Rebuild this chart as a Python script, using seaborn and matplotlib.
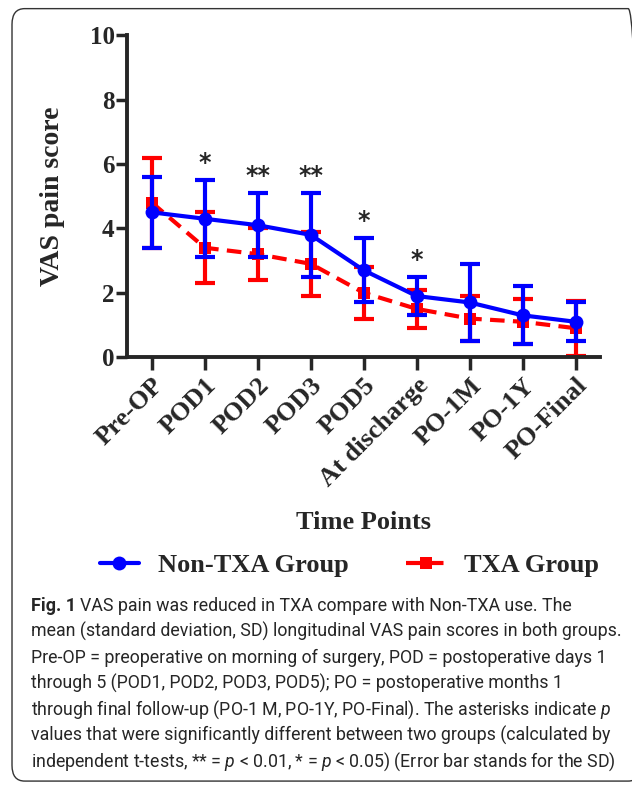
import matplotlib
matplotlib.use('Agg')
import matplotlib.pyplot as plt
import seaborn as sns
import pandas as pd
import numpy as np
from matplotlib.patches import FancyBboxPatch

# Data
time_points = ['Pre-OP', 'POD1', 'POD2', 'POD3', 'POD5', 'At discharge',
               'PO-1M', 'PO-1Y', 'PO-Final']
non_txa_mean = [4.5, 4.3, 4.1, 3.8, 2.7, 1.9, 1.7, 1.3, 1.1]
non_txa_sd = [1.1, 1.2, 1.0, 1.3, 1.0, 0.6, 1.2, 0.9, 0.6]
txa_mean = [4.8, 3.4, 3.2, 2.9, 2.0, 1.5, 1.2, 1.1, 0.9]
txa_sd = [1.4, 1.1, 0.8, 1.0, 0.8, 0.6, 0.7, 0.7, 0.85]
stars = ['', '*', '**', '**', '*', '*', '', '', '']

caption_lines = [
    "VAS pain was reduced in TXA compare with Non-TXA use. The",
    "mean (standard deviation, SD) longitudinal VAS pain scores in both groups.",
    "Pre-OP = preoperative on morning of surgery, POD = postoperative days 1",
    "through 5 (POD1, POD2, POD3, POD5); PO = postoperative months 1",
    "through final follow-up (PO-1 M, PO-1Y, PO-Final). The asterisks indicate $p$",
    "values that were significantly different between two groups (calculated by",
    "independent t-tests, ** = $p$ < 0.01, * = $p$ < 0.05) (Error bar stands for the SD)",
]

sns.set_style('ticks')
plt.rcParams['font.family'] = ['Liberation Serif', 'DejaVu Serif']
plt.rcParams['mathtext.fontset'] = 'custom'
plt.rcParams['mathtext.it'] = 'Roboto:italic'

df = pd.DataFrame({
    'x': list(range(len(time_points))) * 2,
    'mean': non_txa_mean + txa_mean,
    'sd': non_txa_sd + txa_sd,
    'group': ['Non-TXA Group'] * len(time_points) + ['TXA Group'] * len(time_points),
})

fig = plt.figure(figsize=(6.32, 7.85), dpi=100)
ax = fig.add_axes([0.201, 0.545, 0.749, 0.41])

x = np.arange(len(time_points))

# error bars first (red below blue)
ax.errorbar(x, txa_mean, yerr=txa_sd, fmt='none', ecolor='#ff0000',
            elinewidth=3, capsize=7, capthick=3, zorder=2)
sns.lineplot(data=df[df.group == 'TXA Group'], x='x', y='mean', ax=ax,
             color='#ff0000', linewidth=3, linestyle=(0, (3.5, 2)),
             marker='s', markersize=8, markeredgewidth=0, label='TXA Group',
             zorder=3)
ax.errorbar(x, non_txa_mean, yerr=non_txa_sd, fmt='none', ecolor='#0000ff',
            elinewidth=3, capsize=7, capthick=3, zorder=4)
sns.lineplot(data=df[df.group == 'Non-TXA Group'], x='x', y='mean', ax=ax,
             color='#0000ff', linewidth=3, marker='o', markersize=10,
             markeredgewidth=0, label='Non-TXA Group', zorder=5)

for i, s in enumerate(stars):
    if s:
        top = non_txa_mean[i] + non_txa_sd[i]
        ax.text(i, top + 0.15, s, ha='center', va='bottom', fontsize=17,
                fontweight='bold', family='DejaVu Sans')

ax.set_xlim(-0.47, 8.47)
ax.set_ylim(0, 10)
ax.set_yticks([0, 2, 4, 6, 8, 10])
ax.set_xticks(x)
ax.set_xticklabels(time_points, rotation=45, ha='right', rotation_mode='anchor',
                   fontsize=19, fontweight='bold')
for lab in ax.get_yticklabels():
    lab.set_fontsize(18)
    lab.set_fontweight('bold')
ax.tick_params(axis='y', width=2.5, length=8, direction='out', pad=1)
ax.tick_params(axis='x', width=2.5, length=9, direction='out', pad=3)
for side in ['left', 'bottom']:
    ax.spines[side].set_linewidth(2.8)
sns.despine(ax=ax)

ax.set_xlabel('Time Points', fontsize=19, fontweight='bold', labelpad=14)
ax.set_ylabel('VAS pain score', fontsize=20, fontweight='bold', labelpad=18)

handles, labels = ax.get_legend_handles_labels()
order = [labels.index('Non-TXA Group'), labels.index('TXA Group')]
ax.legend([handles[k] for k in order], [labels[k] for k in order],
          loc='center', bbox_to_anchor=(0.553, 0.280), bbox_transform=fig.transFigure,
          ncol=2, frameon=False, prop={'weight': 'bold', 'size': 19},
          handlelength=1.5, columnspacing=2.2, handletextpad=0.7)

# caption, one line at a time
cap_x = 31 / 632
for i, line in enumerate(caption_lines):
    y = 1 - (611 + 26 * i) / 785
    if i == 0:
        fig1 = fig.text(cap_x, y, 'Fig. 1', fontsize=13, fontweight='bold',
                        family='Roboto', va='baseline', ha='left')
        fig.canvas.draw()
        fig.text(0, 0, line, fontsize=12.8, family='Roboto', va='baseline', ha='left')
        bb = fig1.get_window_extent()
        fig.texts[-1].set_position((bb.x1 / fig.bbox.width + 4 / 632, y))
    else:
        fig.text(cap_x, y, line, fontsize=12.8, family='Roboto',
                 va='baseline', ha='left')

# rounded frame
frame = FancyBboxPatch((0.019, 0.005), 0.995, 0.984, boxstyle='round,pad=0,rounding_size=0.02',
                       transform=fig.transFigure, fill=False, edgecolor='#333333',
                       linewidth=1.0)
fig.patches.append(frame)

fig.savefig('out.png', dpi=100)
